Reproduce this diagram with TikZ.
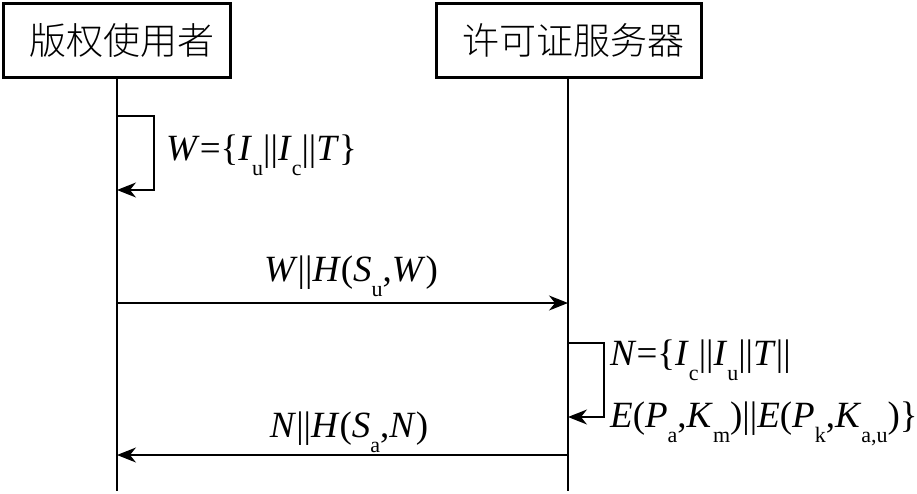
\documentclass[tikz,border=0pt]{standalone}
\usepackage{fontspec}
\setmainfont{Liberation Serif}
\newfontfamily\cjk{Noto Sans CJK SC Light}
\usetikzlibrary{arrows.meta}
\newcommand\mysub[1]{\raisebox{-15pt}{\fontsize{22}{22}\selectfont #1}}
\newcommand\mi[1]{\textit{#1}}
\begin{document}
\begin{tikzpicture}[x=1pt,y=-1pt,
  actor/.style={draw,line width=3pt,minimum height=74pt,inner sep=0pt,
    font=\cjk\fontsize{37}{40}\selectfont},
  life/.style={line width=1.3pt},
  msg/.style={line width=1.3pt,-{Stealth[length=19pt,width=15pt,inset=6pt]}},
  lab/.style={inner sep=0pt,font=\fontsize{37}{40}\selectfont}]
\useasboundingbox (0,0) rectangle (917,493);
\node[actor,minimum width=227pt] (usr) at (117,40) {\hspace*{10pt}版权使用者};
\node[actor,minimum width=265pt] (srv) at (568.5,40) {\hspace*{10pt}许可证服务器};
\coordinate (uEnd) at (117,491);
\coordinate (sEnd) at (568,491);
\draw[life] (usr.south) -- (uEnd);
\draw[life] (srv.south -| sEnd) -- (sEnd);
% self loop 1
\coordinate (l1a) at (117,116);
\coordinate (l1b) at (117,190);
\draw[msg] (l1a) -- ++(37,0) |- (l1b);
\node[lab,anchor=base west] (l1lab) at (166,160)
  {\mi{W}=\{\mi{I}\mysub{u}||\mi{I}\mysub{c}||\mi{T}\}};
% message 1
\coordinate (m1s) at (117,303);
\coordinate (m1e) at (568,303);
\draw[msg] (m1s) -- (m1e);
\node[lab,anchor=base] (m1lab) at (351,281)
  {\mi{W}||\mi{H}(\mi{S}\mysub{u},\mi{W})};
% self loop 2
\coordinate (l2a) at (568,343);
\coordinate (l2b) at (568,417);
\draw[msg] (l2a) -- ++(36,0) |- (l2b);
\node[lab,anchor=base west] (l2lab1) at (610,365)
  {\mi{N}=\{\mi{I}\mysub{c}||\mi{I}\mysub{u}||\mi{T}||};
\node[lab,anchor=base west] (l2lab2) at (610,427)
  {\mi{E}(\mi{P}\mysub{a},\mi{K}\mysub{m})||\mi{E}(\mi{P}\mysub{k},\mi{K}\mysub{a,u})\}};
% message 2
\coordinate (m2s) at (568,455);
\coordinate (m2e) at (117,455);
\draw[msg] (m2s) -- (m2e);
\node[lab,anchor=base] (m2lab) at (349,437)
  {\mi{N}||\mi{H}(\mi{S}\mysub{a},\mi{N})};
\end{tikzpicture}
\end{document}
